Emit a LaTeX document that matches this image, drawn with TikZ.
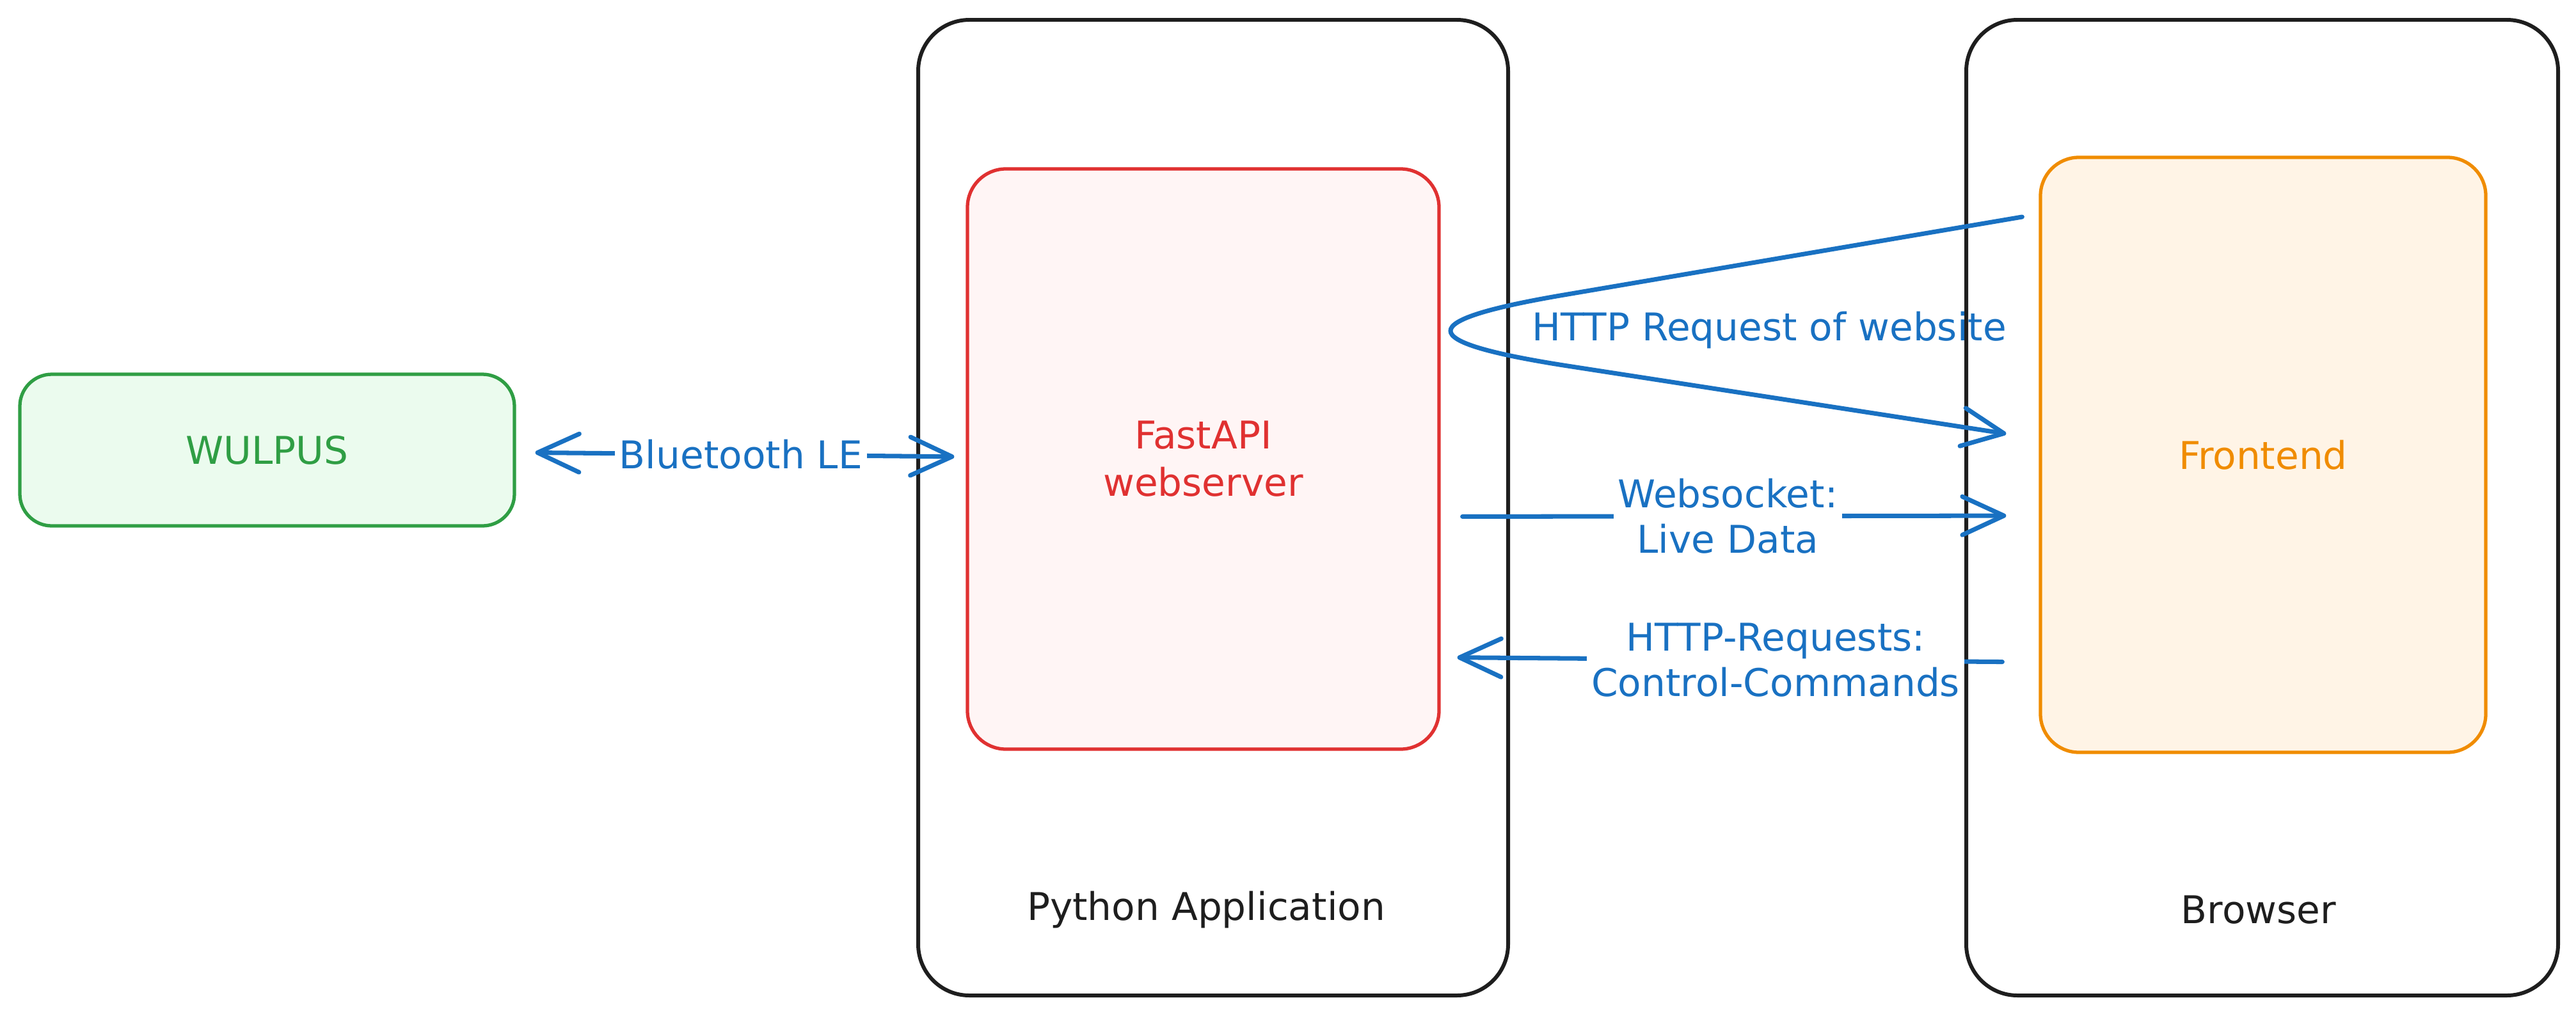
\documentclass[tikz,border=0pt]{standalone}
\usepackage{fontspec}
\setmainfont{DejaVu Sans}
\usepackage{xcolor}
\definecolor{exblack}{HTML}{1E1E1E}
\definecolor{exblue}{HTML}{1971C2}
\definecolor{exgreen}{HTML}{2F9E44}
\definecolor{exgreenfill}{HTML}{EBFBEE}
\definecolor{exred}{HTML}{E03131}
\definecolor{exredfill}{HTML}{FFF5F5}
\definecolor{exorange}{HTML}{F08C00}
\definecolor{exorangefill}{HTML}{FFF4E6}
\usepackage{tikz}
\usetikzlibrary{positioning}
\usetikzlibrary{arrows.meta}
\usetikzlibrary{calc}
\tikzset{main node/.style={rectangle,draw,line width=1.5pt,inner sep=0pt,rounded corners=6mm,font=\fontsize{17}{21}\selectfont,align=center},
         container/.style={main node,draw=exblack,line width=1.7pt,rounded corners=8mm,minimum width=9.22cm,minimum height=15.25cm},
         flow/.style={draw=exblue,line width=2pt,line cap=round},
         flow label/.style={text=exblue,align=center,font=\fontsize{17}{20}\selectfont,inner sep=2pt},}

\begin{document}
\begin{tikzpicture}[>={Straight Barb[length=6.5mm,width=6mm,round]}, node distance=1cm]
    \useasboundingbox (0,0) rectangle (40.26,-15.84);

    % containers
    \node[container] (pyapp) at (18.96,-7.935) {};
    \node[container, minimum width=9.25cm] (browser) at (35.355,-7.935) {};
    \node[text=exblack, font=\fontsize{17}{21}\selectfont] (pylabel) at (18.85,-14.22) {Python Application};
    \node[text=exblack, font=\fontsize{17}{21}\selectfont] (brlabel) at (35.30,-14.22) {Browser};

    % components
    \node[main node, draw=exgreen, fill=exgreenfill, text=exgreen, rounded corners=5mm, minimum width=7.73cm, minimum height=2.37cm] (wulpus) at (4.175,-7.035) {WULPUS};
    \node[main node, draw=exred, fill=exredfill, text=exred, minimum width=7.37cm, minimum height=9.07cm] (fastapi) at (18.805,-7.175) {FastAPI\\webserver};
    \node[main node, draw=exorange, fill=exorangefill, text=exorange, minimum width=6.96cm, minimum height=9.30cm] (front) at (35.37,-7.11) {Frontend};

    \path[flow]
    (wulpus) edge [<->, shorten <=3mm, shorten >=1.8mm] node [flow label, fill=white] {Bluetooth LE} (fastapi)
    ([yshift=-9mm]fastapi.east) edge [->, shorten <=3.4mm, shorten >=5.1mm] node [flow label, fill=white, pos=0.48] {Websocket:\\Live Data} ([yshift=-9.5mm]front.west)
    ([yshift=-32.4mm]front.west) edge [->, shorten <=5.7mm, shorten >=2.6mm] node [flow label, fill=white, pos=0.44] {HTTP-Requests:\\Control-Commands} ([yshift=-31mm]fastapi.east);

    % request of the website
    \draw[flow, ->] ([xshift=-2.6mm,yshift=37.2mm]front.west) -- (24.5,-4.60) .. controls (22.06,-5.01) and (22.06,-5.34) .. (24.5,-5.72) -- ([xshift=-5.1mm,yshift=3.3mm]front.west);
    \node[flow label] (reqlabel) at (27.65,-5.16) {HTTP Request of website};
\end{tikzpicture}
\end{document}
